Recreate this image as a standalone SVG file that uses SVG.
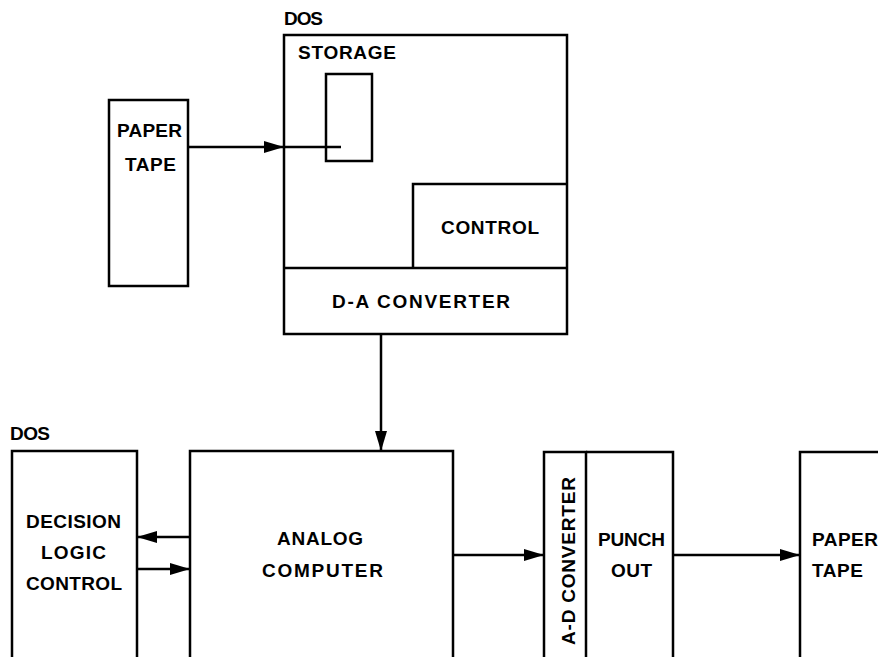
<svg xmlns="http://www.w3.org/2000/svg" width="878" height="657" viewBox="0 0 878 657">
<style>
.b{fill:none;stroke:#000;stroke-width:2.5}
.t{font-family:"Liberation Sans",Arial,sans-serif;font-weight:bold;font-size:19px;fill:#000}
.c{stroke:#000;stroke-width:2.5;fill:none}
</style>
<defs>
<marker id="ah" markerWidth="20" markerHeight="12" refX="20" refY="6" orient="auto" markerUnits="userSpaceOnUse">
<path d="M0,0 L20,6 L0,12 Z" fill="#000"/>
</marker>
</defs>
<rect width="878" height="657" fill="#fff"/>
<g id="paper-tape-in">
<rect class="b" x="109" y="100" width="79" height="186"/>
<text class="t" x="117" y="137" textLength="65" lengthAdjust="spacing">PAPER</text>
<text class="t" x="125" y="171" textLength="51" lengthAdjust="spacing">TAPE</text>
</g>
<g id="dos-top">
<text class="t" x="284" y="25" textLength="39" lengthAdjust="spacing">DOS</text>
<rect class="b" x="284" y="35" width="283" height="299"/>
<line class="b" x1="284" y1="268" x2="567" y2="268"/>
</g>
<g id="storage">
<text class="t" x="298" y="59" textLength="98" lengthAdjust="spacing">STORAGE</text>
<rect class="b" x="326" y="74" width="46" height="87"/>
</g>
<g id="control">
<path class="b" d="M413,268 V184 H567"/>
<text class="t" x="441" y="234" textLength="98" lengthAdjust="spacing">CONTROL</text>
</g>
<g id="da-converter">
<text class="t" x="332" y="308" textLength="178" lengthAdjust="spacing">D-A CONVERTER</text>
</g>
<g id="dos-bottom">
<text class="t" x="10" y="440" textLength="40" lengthAdjust="spacing">DOS</text>
<path class="b" d="M12,670 V451 H137 V670"/>
<text class="t" x="26" y="528" textLength="95" lengthAdjust="spacing">DECISION</text>
<text class="t" x="41" y="559" textLength="65" lengthAdjust="spacing">LOGIC</text>
<text class="t" x="26" y="590" textLength="96" lengthAdjust="spacing">CONTROL</text>
</g>
<g id="analog-computer">
<path class="b" d="M190,670 V451 H453 V670"/>
<text class="t" x="277" y="545" textLength="86" lengthAdjust="spacing">ANALOG</text>
<text class="t" x="262" y="577" textLength="121" lengthAdjust="spacing">COMPUTER</text>
</g>
<g id="ad-converter">
<path class="b" d="M544,670 V452 H586 V670"/>
<text class="t" transform="translate(575,645) rotate(-90)" x="0" y="0" textLength="168" lengthAdjust="spacing">A-D CONVERTER</text>
</g>
<g id="punch-out">
<path class="b" d="M586,452 H673 V670"/>
<text class="t" x="598" y="546" textLength="67" lengthAdjust="spacing">PUNCH</text>
<text class="t" x="611" y="577" textLength="41" lengthAdjust="spacing">OUT</text>
</g>
<g id="paper-tape-out">
<path class="b" d="M800,670 V452 H890"/>
<text class="t" x="812" y="546" textLength="66" lengthAdjust="spacing">PAPER</text>
<text class="t" x="812" y="577" textLength="51" lengthAdjust="spacing">TAPE</text>
</g>
<g id="connectors">
<line class="c" x1="188" y1="147" x2="284" y2="147" marker-end="url(#ah)"/>
<line class="c" x1="284" y1="147" x2="341" y2="147"/>
<line class="c" x1="381" y1="334" x2="381" y2="451" marker-end="url(#ah)"/>
<line class="c" x1="190" y1="537" x2="137" y2="537" marker-end="url(#ah)"/>
<line class="c" x1="137" y1="569" x2="190" y2="569" marker-end="url(#ah)"/>
<line class="c" x1="453" y1="555" x2="544" y2="555" marker-end="url(#ah)"/>
<line class="c" x1="673" y1="555" x2="800" y2="555" marker-end="url(#ah)"/>
</g>
</svg>
